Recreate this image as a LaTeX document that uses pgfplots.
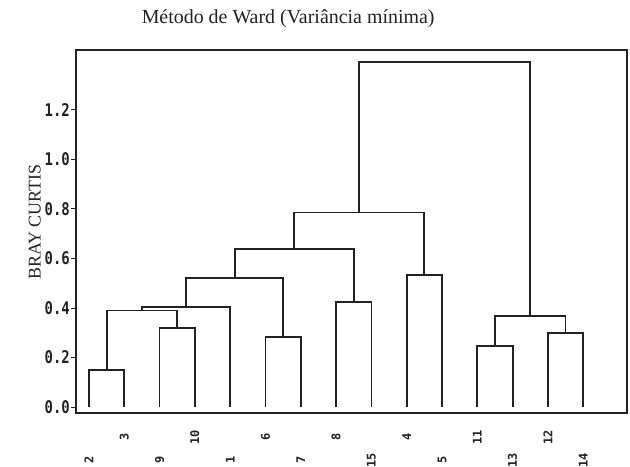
\documentclass[border=0pt]{standalone}
\usepackage{fontspec}
\setmainfont{Liberation Serif}
\newfontfamily\tickfont{DejaVu Sans Mono}
\usepackage{graphicx}
\usepackage{pgfplots}
\pgfplotsset{compat=1.18}
\definecolor{ink}{HTML}{222222}
\newcommand{\yt}[1]{\scalebox{1}[1.25]{#1}}
\begin{document}
\begin{tikzpicture}
\path[use as bounding box] (-76bp,-54bp) rectangle (554bp,413bp);
\begin{axis}[
  scale only axis, width=551bp, height=363bp,
  xmin=0.632, xmax=16.24, ymin=-0.024, ymax=1.442,
  axis line style={line width=2bp, color=ink},
  ytick={0,0.2,0.4,0.6,0.8,1.0,1.2},
  yticklabels={\yt{0.0},\yt{0.2},\yt{0.4},\yt{0.6},\yt{0.8},\yt{1.0},\yt{1.2}},
  ytick pos=left, xtick pos=bottom, tick align=outside,
  major tick length=5bp,
  ytick style={line width=1bp, color=ink},
  xtick style={draw=none},
  yticklabel style={font=\tickfont\bfseries\fontsize{14}{14}\selectfont, text=ink, inner sep=1bp},
  xtick={1,2,3,4,5,6,7,8,9,10,11,12,13,14,15},
  xticklabels={2\hspace*{46bp},3,9\hspace*{46bp},10,1\hspace*{46bp},6,7\hspace*{46bp},8,15\hspace*{46bp},4,5\hspace*{46bp},11,13\hspace*{46bp},12,14\hspace*{46bp}},
  xticklabel style={font=\tickfont\bfseries\fontsize{12}{12}\selectfont, text=ink, yshift=-19bp, rotate=90, anchor=center},
  title={Método de Ward (Variância mínima)},
  title style={at={(axis description cs:0.385,1.07)}, anchor=center, font=\fontsize{20}{22}\selectfont, text=ink},
  ylabel={BRAY CURTIS},
  ylabel style={at={(axis description cs:-0.075,0.526)}, anchor=center, font=\fontsize{18}{20}\selectfont, text=ink},
  clip=false,
]
\pgfplotsset{dendro/.style={line width=1.8bp, color=ink, no markers}}
\addplot[dendro] coordinates {(1,0) (1,0.15) (2,0.15) (2,0)};
\addplot[dendro] coordinates {(3,0) (3,0.32) (4,0.32) (4,0)};
\addplot[dendro] coordinates {(1.5,0.15) (1.5,0.39) (3.5,0.39) (3.5,0.32)};
\addplot[dendro] coordinates {(2.5,0.39) (2.5,0.405) (5,0.405) (5,0)};
\addplot[dendro] coordinates {(6,0) (6,0.283) (7,0.283) (7,0)};
\addplot[dendro] coordinates {(3.75,0.405) (3.75,0.521) (6.5,0.521) (6.5,0.283)};
\addplot[dendro] coordinates {(8,0) (8,0.424) (9,0.424) (9,0)};
\addplot[dendro] coordinates {(5.125,0.521) (5.125,0.637) (8.5,0.637) (8.5,0.424)};
\addplot[dendro] coordinates {(10,0) (10,0.533) (11,0.533) (11,0)};
\addplot[dendro] coordinates {(6.8125,0.637) (6.8125,0.786) (10.5,0.786) (10.5,0.533)};
\addplot[dendro] coordinates {(12,0) (12,0.246) (13,0.246) (13,0)};
\addplot[dendro] coordinates {(14,0) (14,0.299) (15,0.299) (15,0)};
\addplot[dendro] coordinates {(12.5,0.246) (12.5,0.368) (14.5,0.368) (14.5,0.299)};
\addplot[dendro] coordinates {(8.65625,0.786) (8.65625,1.394) (13.5,1.394) (13.5,0.368)};
\end{axis}
\end{tikzpicture}
\end{document}
